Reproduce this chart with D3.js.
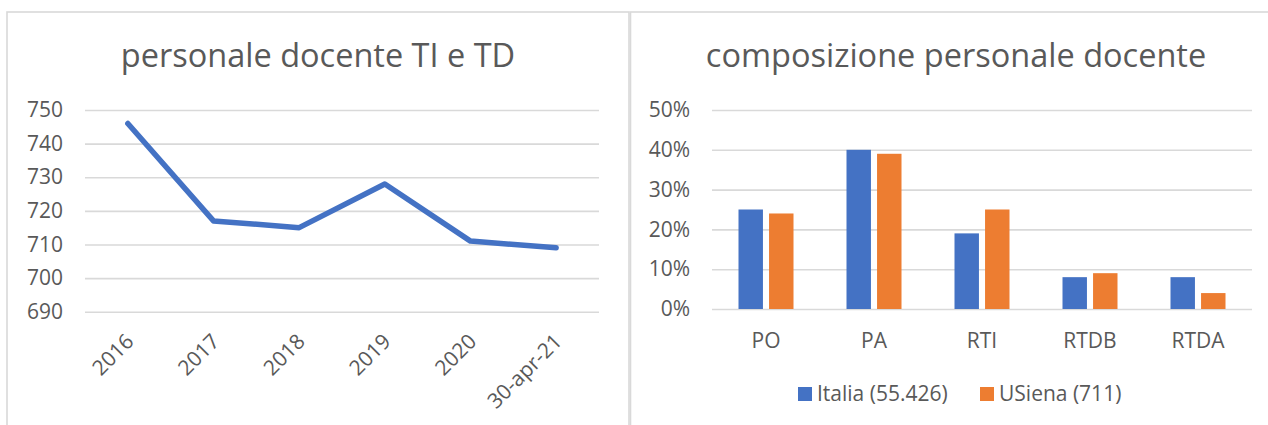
<!DOCTYPE html>
<html>
<head>
<meta charset="utf-8">
<script src="https://cdn.jsdelivr.net/npm/d3@7"></script>
<style>
    body { margin: 0; background: #fff; }
    svg { display: block; font-family: 'Open Sans', sans-serif; }
</style>
</head>
<body>
<svg id="chart" width="1268" height="425"></svg>
<script>
// left chart: staff count over time
const years = ['2016', '2017', '2018', '2019', '2020', '30-apr-21'];
const staffCount = [746, 717, 715, 728, 711, 709];
const staffTicks = [690, 700, 710, 720, 730, 740, 750];

// right chart: staff composition
const roles = ['PO', 'PA', 'RTI', 'RTDB', 'RTDA'];
const seriesNames = ['Italia (55.426)', 'USiena (711)'];
const italiaShare = [0.25, 0.40, 0.19, 0.08, 0.08];
const usienaShare = [0.24, 0.39, 0.25, 0.09, 0.04];
const shareTicks = [0, 0.1, 0.2, 0.3, 0.4, 0.5];

const colors = ['#4472C4', '#ED7D31'];
const textColor = '#595959';
const gridColor = '#D9D9D9';
const fontFamily = "'Open Sans', sans-serif";

const svg = d3.select('#chart');

// panel frames
svg.append('rect')
    .attr('x', 7).attr('y', 12).attr('width', 622).attr('height', 430)
    .attr('fill', 'none').attr('stroke', gridColor).attr('stroke-width', 1.6);
svg.append('rect')
    .attr('x', 630.5).attr('y', 12).attr('width', 650).attr('height', 430)
    .attr('fill', 'none').attr('stroke', gridColor).attr('stroke-width', 1.6);

function title(x, text) {
    svg.append('text')
        .attr('x', x).attr('y', 67)
        .attr('text-anchor', 'middle')
        .attr('font-size', 32.5)
        .attr('fill', textColor)
        .text(text);
}

function styleAxis(g) {
    g.attr('font-family', fontFamily).attr('font-size', 21);
    g.select('.domain').remove();
    g.selectAll('text').attr('fill', textColor);
}

// ---- left: line chart
const lx = d3.scalePoint().domain(years).range([85, 599]).padding(0.5);
const ly = d3.scaleLinear().domain([690, 750]).range([311.7, 110]);

title(318, 'personale docente TI e TD');

svg.append('g')
    .attr('transform', 'translate(85,0)')
    .call(d3.axisLeft(ly).tickValues(staffTicks).tickSize(-514).tickFormat(''))
    .call(g => g.select('.domain').remove())
    .call(g => g.selectAll('line').attr('stroke', gridColor).attr('stroke-width', 1.6));

svg.append('g')
    .attr('transform', 'translate(63,0)')
    .call(d3.axisLeft(ly).tickValues(staffTicks).tickSize(0).tickPadding(0))
    .call(styleAxis);

svg.append('g')
    .attr('transform', 'translate(0,339)')
    .call(d3.axisBottom(lx).tickSize(0).tickPadding(0))
    .call(styleAxis)
    .call(g => g.selectAll('text')
        .attr('text-anchor', 'end')
        .attr('x', 2)
        .attr('y', 0)
        .attr('dy', '0.35em')
        .attr('transform', 'rotate(-45)'));

const line = d3.line()
    .x((d, i) => lx(years[i]))
    .y(d => ly(d));

svg.append('path')
    .datum(staffCount)
    .attr('d', line)
    .attr('fill', 'none')
    .attr('stroke', colors[0])
    .attr('stroke-width', 5.5)
    .attr('stroke-linejoin', 'round')
    .attr('stroke-linecap', 'round');

// ---- right: grouped bars
const rx = d3.scaleBand().domain(roles).range([712, 1252]);
const rsub = d3.scaleBand().domain(seriesNames).range([-27.5, 27.5]).paddingInner(0.2);
const ry = d3.scaleLinear().domain([0, 0.5]).range([309, 110]);

title(956, 'composizione personale docente');

svg.append('g')
    .attr('transform', 'translate(712,0)')
    .call(d3.axisLeft(ry).tickValues(shareTicks).tickSize(-540).tickFormat(''))
    .call(g => g.select('.domain').remove())
    .call(g => g.selectAll('line').attr('stroke', gridColor).attr('stroke-width', 1.6));

svg.append('g')
    .attr('transform', 'translate(690,0)')
    .call(d3.axisLeft(ry).tickValues(shareTicks).tickSize(0).tickPadding(0).tickFormat(d3.format('.0%')))
    .call(styleAxis);

svg.append('g')
    .attr('transform', 'translate(0,333)')
    .call(d3.axisBottom(rx).tickSize(0).tickPadding(0))
    .call(styleAxis);

const barData = roles.flatMap((role, i) => [
    { role, series: seriesNames[0], value: italiaShare[i], color: colors[0] },
    { role, series: seriesNames[1], value: usienaShare[i], color: colors[1] },
]);

svg.append('g')
    .selectAll('rect')
    .data(barData)
    .join('rect')
    .attr('x', d => rx(d.role) + rx.bandwidth() / 2 + rsub(d.series))
    .attr('width', rsub.bandwidth())
    .attr('y', d => ry(d.value))
    .attr('height', d => ry(0) - ry(d.value))
    .attr('fill', d => d.color);

// legend
const legendX = [798, 980];
const legend = svg.append('g')
    .selectAll('g')
    .data(seriesNames)
    .join('g')
    .attr('transform', (d, i) => `translate(${legendX[i]},387)`);

legend.append('rect')
    .attr('width', 14).attr('height', 14)
    .attr('fill', (d, i) => colors[i]);

legend.append('text')
    .attr('x', 19).attr('y', 14)
    .attr('font-size', 21)
    .attr('fill', textColor)
    .text(d => d);
</script>
</body>
</html>
